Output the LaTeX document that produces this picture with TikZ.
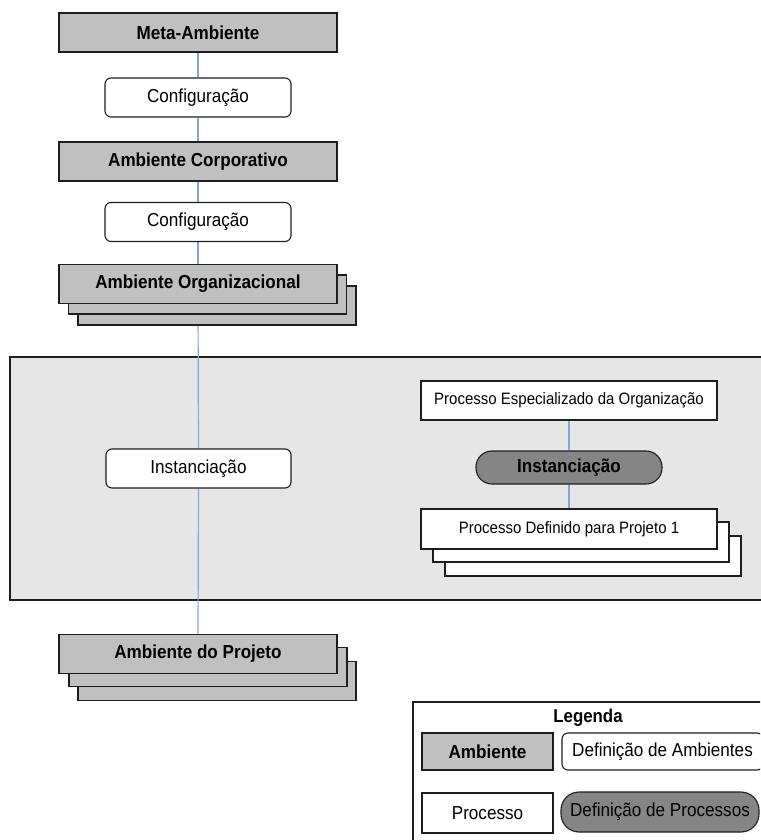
\documentclass[tikz,border=0pt]{standalone}
\usepackage{fontspec}
\setmainfont{Liberation Sans}[FakeStretch=0.91]
\definecolor{edge}{HTML}{1E1E1E}
\definecolor{envgray}{HTML}{C0C0C0}
\definecolor{zonegray}{HTML}{E6E6E6}
\definecolor{pillgray}{HTML}{858585}
\definecolor{linkblue}{HTML}{7FA6DE}
\pgfdeclarelayer{zone}
\pgfdeclarelayer{links}
\pgfsetlayers{zone,links,main}
\begin{document}
\begin{tikzpicture}[x=1pt,y=-1pt,
  base/.style={draw=edge, line width=1.1pt, inner sep=0pt, align=center, text=black},
  env/.style={base, fill=envgray, minimum width=278pt, minimum height=39pt,
    font=\fontsize{18.8}{22}\selectfont\bfseries},
  conf/.style={base, fill=white, rounded corners=6pt, minimum width=186pt, minimum height=39pt,
    font=\fontsize{18.8}{22}\selectfont},
  proc/.style={base, fill=white, minimum width=296pt, minimum height=39pt,
    font=\fontsize{16.5}{20}\selectfont},
  pill/.style={base, fill=pillgray, rounded corners=16pt, minimum height=33pt,
    font=\fontsize{18.8}{22}\selectfont\bfseries},
  link/.style={draw=linkblue, line width=1.2pt}]
\useasboundingbox (0,0) rectangle (760,840);
\clip (0,0) rectangle (760,840);

% shaded instantiation zone
\begin{pgfonlayer}{zone}
  \filldraw[fill=zonegray, draw=edge, line width=1.1pt] (10,357) rectangle (775,600);
\end{pgfonlayer}

% environment chain
\node[env] (meta) at (198,32.5) {Meta-Ambiente};
\node[conf] (conf1) at (198,97.5) {Configuração};
\node[env] (corp) at (198,161.5) {Ambiente Corporativo};
\node[conf] (conf2) at (198,222) {Configuração};
\node[env] (org3) at (217,305.5) {};
\node[env] (org2) at (207.5,294.5) {};
\node[env] (org) at (198,284) {Ambiente Organizacional};
\node[conf, minimum width=185pt] (inst1) at (198.5,468.5) {Instanciação};
\node[env] (proj3) at (217,681) {};
\node[env] (proj2) at (208,667) {};
\node[env] (proj) at (198,654) {Ambiente do Projeto};

% process chain
\node[proc] (pe) at (569,400.5) {Processo Especializado da Organização};
\node[pill, minimum width=186pt] (inst2) at (569,467.5) {Instanciação};
\node[proc, minimum height=40pt] (pd3) at (593,556) {};
\node[proc, minimum height=40pt] (pd2) at (581,542) {};
\node[proc, minimum height=40pt] (pd) at (569,529) {Processo Definido para Projeto 1};

% connectors
\begin{pgfonlayer}{links}
  \path[link] (meta) -- (conf1) -- (corp) -- (conf2) -- (org);
  \path[link] (org.south) -- (inst1.north);
  \path[link] (inst1.south) -- (proj.north);
  \path[link] (pe) -- (inst2) -- (pd);
\end{pgfonlayer}

% legend
\draw[edge, line width=1.1pt, fill=white] (413,702) rectangle (775,850);
\node[font=\fontsize{18.5}{22}\selectfont\bfseries, inner sep=0pt] (legtitle) at (588,718) {Legenda};
\node[env, minimum width=131pt, minimum height=37pt] (lamb) at (487.5,751.5) {Ambiente};
\node[conf, minimum width=201pt, minimum height=37pt] (ldefamb) at (662.5,751.5) {Definição de Ambientes};
\node[base, fill=white, minimum width=131pt, minimum height=40pt,
  font=\fontsize{18.8}{22}\selectfont] (lproc) at (487.5,813) {Processo};
\node[pill, minimum width=198pt, minimum height=40pt, rounded corners=18pt,
  font=\fontsize{18.8}{22}\selectfont] (ldefproc) at (660,812) {Definição de Processos};
\end{tikzpicture}
\end{document}
